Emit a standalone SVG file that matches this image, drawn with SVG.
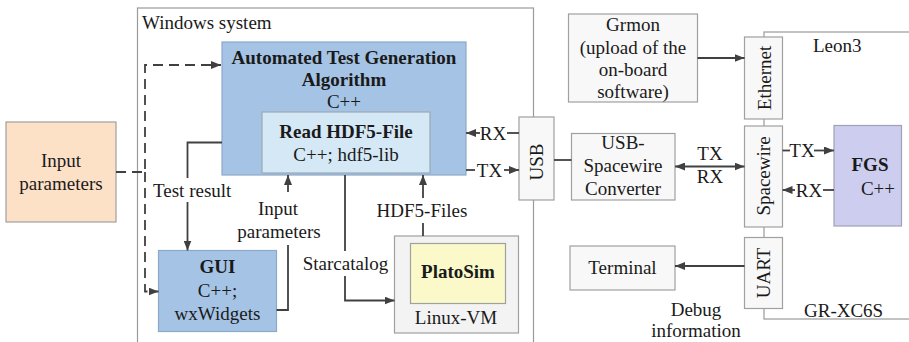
<svg xmlns="http://www.w3.org/2000/svg" width="909" height="342" viewBox="0 0 909 342">
  <defs>
    <marker id="arrow" viewBox="0 0 10 8" refX="10" refY="4" markerWidth="10" markerHeight="8" markerUnits="userSpaceOnUse" orient="auto-start-reverse">
      <path d="M0,0 L10,4 L0,8 z" fill="#404040"/>
    </marker>
  </defs>
  <style>
    text { font-family: "Liberation Serif", "Times New Roman", serif; font-size: 19px; fill: #1a1a1a; }
    .c { text-anchor: middle; }
    .b { font-weight: bold; }
    .box { stroke: #a0a0a0; stroke-width: 1.2; fill: #f8f8f8; }
    .blue { fill: #a5c4e5; stroke: #8ea9c8; stroke-width: 1.2; }
    .frame { fill: none; stroke: #9a9a9a; stroke-width: 1.2; }
    .wire { fill: none; stroke: #404040; stroke-width: 1.8; }
    .dash { stroke-dasharray: 10 6; }
  </style>

  <!-- enclosing frames -->
  <g id="windows-system">
    <rect class="frame" x="137.5" y="8" width="396" height="400"/>
    <text x="142" y="29">Windows system</text>
  </g>
  <g id="board">
    <rect class="frame" x="764" y="32" width="200" height="287" stroke="#aaaaaa"/>
    <text x="813" y="52">Leon3</text>
    <text x="804" y="317">GR-XC6S</text>
  </g>

  <!-- nodes -->
  <g id="input-parameters">
    <rect x="6" y="122" width="110" height="100" fill="#fde1c7" stroke="#a0a0a0" stroke-width="1.2"/>
    <text class="c" x="61" y="167">Input</text>
    <text class="c" x="61" y="190">parameters</text>
  </g>
  <g id="atga">
    <rect class="blue" x="222" y="42" width="244" height="133"/>
    <text class="c b" x="344" y="64">Automated Test Generation</text>
    <text class="c b" x="344" y="86">Algorithm</text>
    <text class="c" x="344" y="108">C++</text>
  </g>
  <g id="read-hdf5">
    <rect x="262" y="112" width="168" height="61" fill="#d5e8f6" stroke="#9aa8b5" stroke-width="1.2"/>
    <text class="c b" x="346" y="138">Read HDF5-File</text>
    <text class="c" x="346" y="161">C++; hdf5-lib</text>
  </g>
  <g id="gui">
    <rect class="blue" x="158.5" y="250.5" width="118" height="81"/>
    <text class="c b" x="217.5" y="273">GUI</text>
    <text class="c" x="217.5" y="296.5">C++;</text>
    <text class="c" x="217.5" y="319.5">wxWidgets</text>
  </g>
  <g id="linux-vm">
    <rect x="394.5" y="236" width="124" height="97" fill="#f3f3f3" stroke="#a0a0a0" stroke-width="1.2"/>
    <text class="c" x="456" y="324">Linux-VM</text>
  </g>
  <g id="platosim">
    <rect x="410.5" y="243.5" width="95" height="60" fill="#fbf9c9" stroke="#a0a0a0" stroke-width="1.2"/>
    <text class="c b" x="458" y="278">PlatoSim</text>
  </g>
  <g id="usb">
    <rect class="box" x="519" y="117" width="35" height="83"/>
    <text class="c" transform="translate(543,162) rotate(-90)">USB</text>
  </g>
  <g id="grmon">
    <rect class="box" x="568.5" y="14" width="129" height="88"/>
    <text class="c" x="633" y="31">Grmon</text>
    <text class="c" x="633" y="53.5">(upload of the</text>
    <text class="c" x="633" y="76">on-board</text>
    <text class="c" x="633" y="98">software)</text>
  </g>
  <g id="usb-spacewire">
    <rect class="box" x="571.5" y="133.5" width="103.5" height="66.5"/>
    <text class="c" x="623" y="148.5">USB-</text>
    <text class="c" x="623" y="172">Spacewire</text>
    <text class="c" x="623" y="195">Converter</text>
  </g>
  <g id="terminal">
    <rect class="box" x="570" y="246" width="105" height="44"/>
    <text class="c" x="622.5" y="273.5">Terminal</text>
  </g>
  <g id="ethernet">
    <rect class="box" x="744.5" y="37" width="38" height="82"/>
    <text class="c" transform="translate(771,78) rotate(-90)">Ethernet</text>
  </g>
  <g id="spacewire">
    <rect class="box" x="744.5" y="126" width="38" height="101"/>
    <text class="c" transform="translate(769.5,176) rotate(-90)">Spacewire</text>
  </g>
  <g id="uart">
    <rect class="box" x="744.5" y="237.5" width="38" height="71"/>
    <text class="c" transform="translate(770,273) rotate(-90)">UART</text>
  </g>
  <g id="fgs">
    <rect x="834" y="125.5" width="67.5" height="100.5" fill="#cdcdef" stroke="#a0a0b8" stroke-width="1.2"/>
    <text class="c b" x="870" y="171">FGS</text>
    <text class="c" x="878" y="194.5">C++</text>
  </g>

  <!-- connectors -->
  <g id="connectors">
    <!-- input parameters, dashed, to algorithm and GUI -->
    <path class="wire dash" d="M116,172 H145 V65 H221" marker-end="url(#arrow)"/>
    <path class="wire dash" d="M145,172 V291.5 H158.5" marker-end="url(#arrow)"/>

    <!-- test result to GUI -->
    <path class="wire" d="M222,142.5 H187.5 V178"/>
    <path class="wire" d="M187.5,202 V250.5" marker-end="url(#arrow)"/>
    <text x="153" y="197">Test result</text>

    <!-- input parameters from GUI -->
    <path class="wire" d="M276.5,310 H288 V245"/>
    <path class="wire" d="M288,192 V175" marker-end="url(#arrow)"/>
    <text class="c" x="278" y="215">Input</text>
    <text class="c" x="279" y="238">parameters</text>

    <!-- star catalogue to the simulator VM -->
    <path class="wire" d="M345,175 V251"/>
    <path class="wire" d="M345,276 V300.5 H394.5" marker-end="url(#arrow)"/>
    <text class="c" x="345.5" y="270">Starcatalog</text>

    <!-- HDF5 files back to the reader -->
    <path class="wire" d="M423,236 V223"/>
    <path class="wire" d="M423,198 V175" marker-end="url(#arrow)"/>
    <text class="c" x="422" y="217">HDF5-Files</text>

    <!-- algorithm <-> USB -->
    <path class="wire" d="M519,133 H507"/>
    <path class="wire" d="M480,133 H466" marker-end="url(#arrow)"/>
    <text class="c" x="493" y="139.5">RX</text>
    <path class="wire" d="M466,170 H475"/>
    <path class="wire" d="M504,170 H519" marker-end="url(#arrow)"/>
    <text class="c" x="489.5" y="176.5">TX</text>

    <!-- USB to converter -->
    <path class="wire" d="M554,160 H571.5"/>

    <!-- converter <-> spacewire -->
    <path class="wire" d="M675,166.5 H744.5" marker-start="url(#arrow)" marker-end="url(#arrow)"/>
    <text class="c" x="710" y="160">TX</text>
    <text class="c" x="710" y="183">RX</text>

    <!-- grmon to ethernet -->
    <path class="wire" d="M697.5,58 H744.5" marker-end="url(#arrow)"/>

    <!-- spacewire <-> FGS -->
    <path class="wire" d="M782.5,150.5 H790"/>
    <path class="wire" d="M814,150.5 H834" marker-end="url(#arrow)"/>
    <text class="c" x="802" y="157">TX</text>
    <path class="wire" d="M834,190 H823"/>
    <path class="wire" d="M795,190 H782.5" marker-end="url(#arrow)"/>
    <text class="c" x="809" y="196.5">RX</text>

    <!-- UART debug output to terminal -->
    <path class="wire" d="M744.5,266 H675" marker-end="url(#arrow)"/>
    <text class="c" x="696" y="316">Debug</text>
    <text class="c" x="696" y="337">information</text>
  </g>
</svg>
